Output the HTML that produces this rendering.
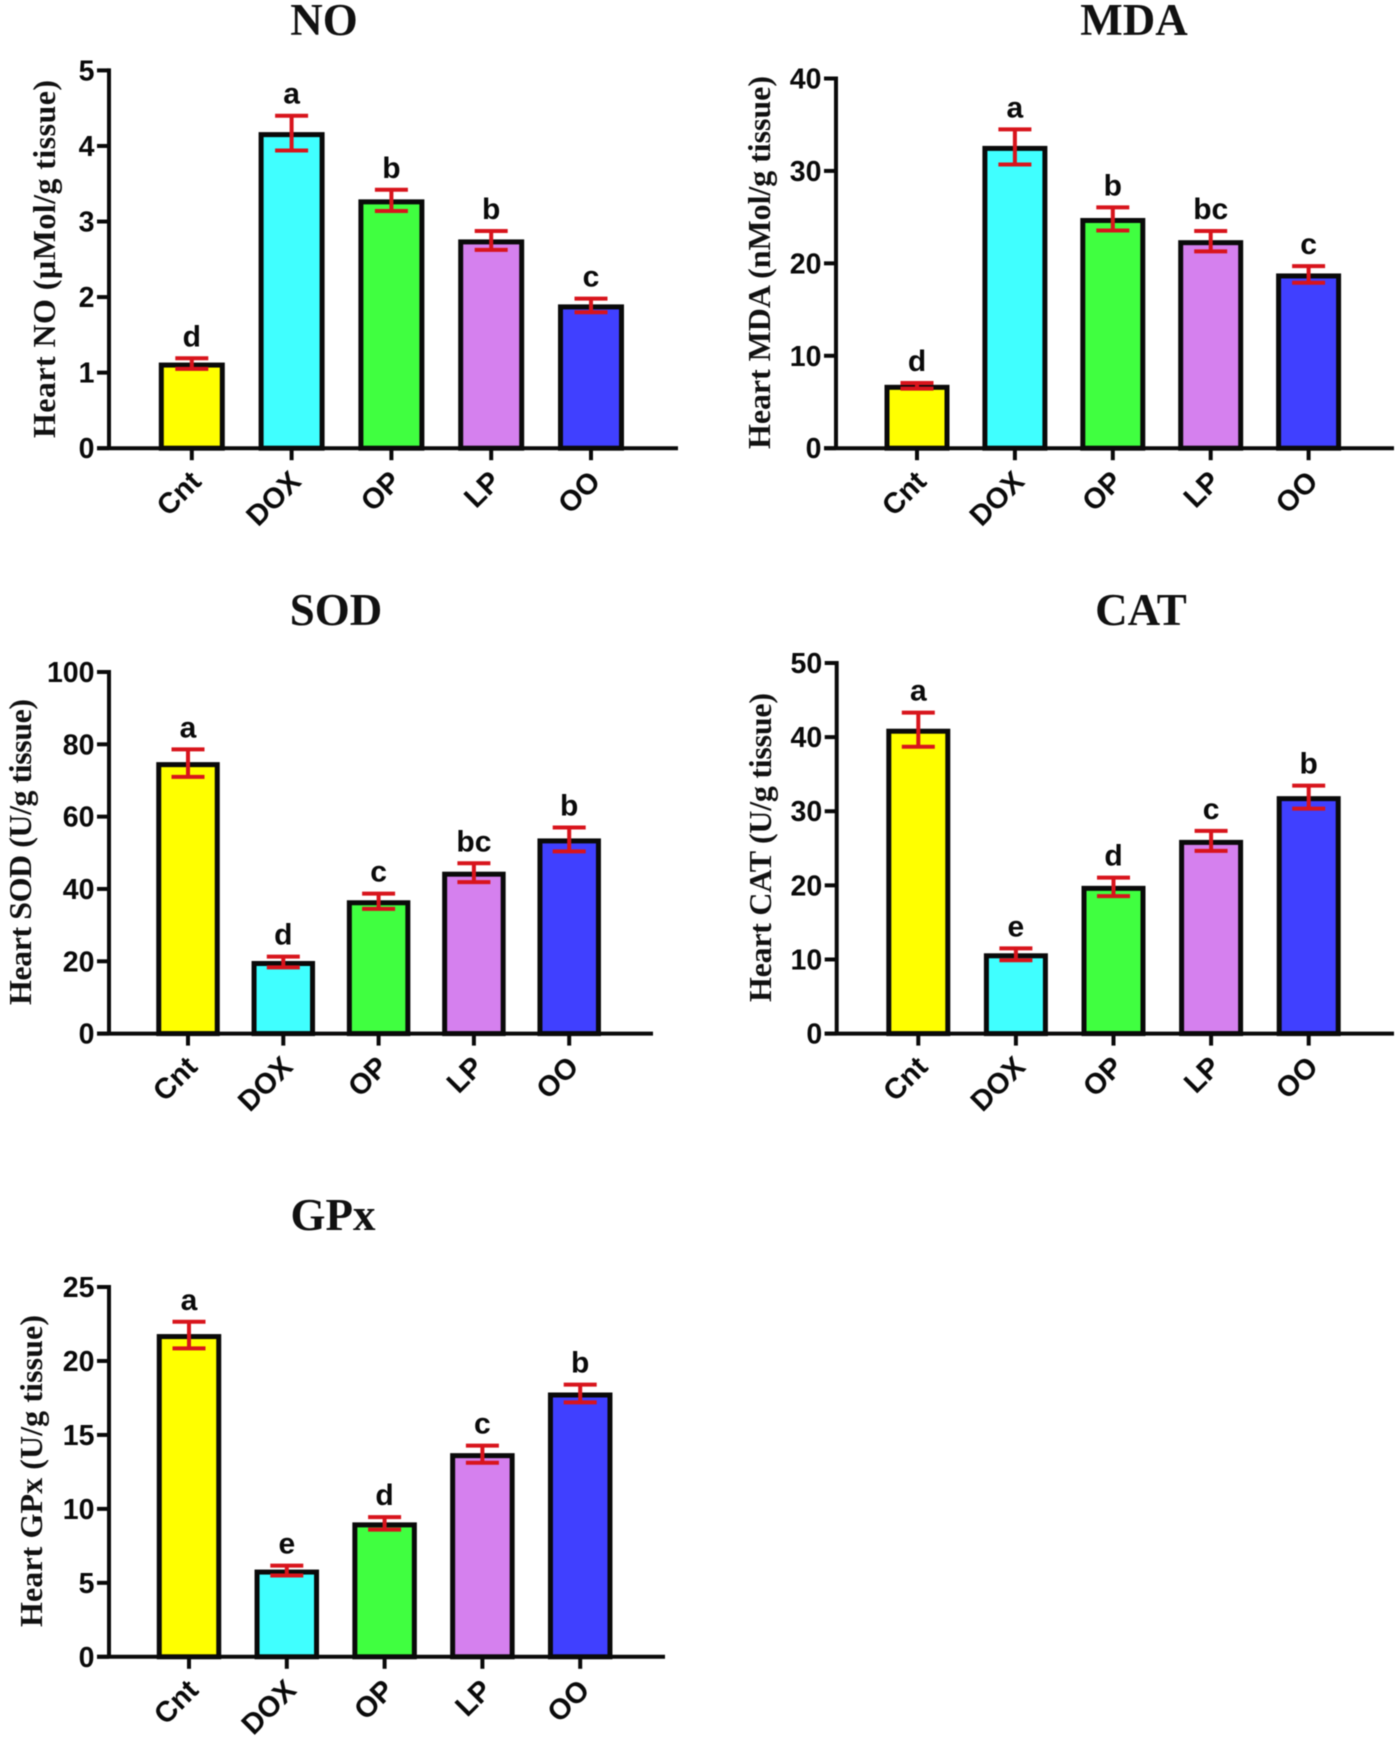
<!DOCTYPE html>
<html lang="en">
<head>
<meta charset="utf-8">
<title>Heart oxidative stress markers</title>
<style>
  html, body { margin: 0; padding: 0; background: #fff; }
  svg { display: block; filter: blur(0.6px); }
  .title { font: bold 45px "Liberation Serif", serif; text-anchor: middle; fill: #111; }
  .ytitle { font: bold 32px "Liberation Serif", serif; fill: #111; }
  .tick-label { font: bold 28.5px "Liberation Sans", sans-serif; text-anchor: end; fill: #0a0a0a; }
  .cat-label { font: bold 29px "Liberation Sans", sans-serif; text-anchor: end; fill: #0a0a0a; }
  .letter { font: bold 30px "Liberation Sans", sans-serif; text-anchor: middle; fill: #0a0a0a; }
</style>
</head>
<body>
<svg id="figure" xmlns="http://www.w3.org/2000/svg" width="1400" height="1740" viewBox="0 0 1400 1740">
  <rect x="0" y="0" width="1400" height="1740" fill="#ffffff"/>

  <g id="chart-no">
    <text class="title" x="324" y="35">NO</text>
    <text class="ytitle" transform="translate(55 438) rotate(-90)" textLength="358" lengthAdjust="spacing">Heart NO (µMol/g tissue)</text>
  </g>
  <g id="chart-mda">
    <text class="title" x="1134" y="35">MDA</text>
    <text class="ytitle" transform="translate(770 449) rotate(-90)" textLength="373" lengthAdjust="spacing">Heart MDA (nMol/g tissue)</text>
  </g>
  <g id="chart-sod">
    <text class="title" x="336" y="625">SOD</text>
    <text class="ytitle" transform="translate(31 1005) rotate(-90)" textLength="306" lengthAdjust="spacing">Heart SOD (U/g tissue)</text>
  </g>
  <g id="chart-cat">
    <text class="title" x="1141" y="625">CAT</text>
    <text class="ytitle" transform="translate(771 1002) rotate(-90)" textLength="309" lengthAdjust="spacing">Heart CAT (U/g tissue)</text>
  </g>
  <g id="chart-gpx">
    <text class="title" x="333" y="1230">GPx</text>
    <text class="ytitle" transform="translate(42 1627) rotate(-90)" textLength="312" lengthAdjust="spacing">Heart GPx (U/g tissue)</text>
  </g>
</svg>

<script>
// Shared categories
const categories = ['Cnt', 'DOX', 'OP', 'LP', 'OO'];

// NO
const noTicks = [0, 1, 2, 3, 4, 5];
const noValues = [1.12, 4.17, 3.28, 2.75, 1.89];
const noErrors = [0.07, 0.23, 0.14, 0.125, 0.09];
const noLetters = ['d', 'a', 'b', 'b', 'c'];

// MDA
const mdaTicks = [0, 10, 20, 30, 40];
const mdaValues = [6.75, 32.6, 24.8, 22.4, 18.8];
const mdaErrors = [0.3, 1.9, 1.25, 1.1, 0.9];
const mdaLetters = ['d', 'a', 'b', 'bc', 'c'];

// SOD
const sodTicks = [0, 20, 40, 60, 80, 100];
const sodValues = [74.8, 19.8, 36.6, 44.5, 53.7];
const sodErrors = [3.8, 1.5, 2.1, 2.6, 3.3];
const sodLetters = ['a', 'd', 'c', 'bc', 'b'];

// CAT
const catTicks = [0, 10, 20, 30, 40, 50];
const catValues = [41, 10.7, 19.8, 26, 31.9];
const catErrors = [2.3, 0.8, 1.25, 1.35, 1.55];
const catLetters = ['a', 'e', 'd', 'c', 'b'];

// GPx
const gpxTicks = [0, 5, 10, 15, 20, 25];
const gpxValues = [21.75, 5.83, 9.02, 13.7, 17.8];
const gpxErrors = [0.9, 0.33, 0.42, 0.58, 0.6];
const gpxLetters = ['a', 'e', 'd', 'c', 'b'];

// Series colours
const barColors = ['#ffff00', '#40ffff', '#40ff40', '#d580ee', '#4040ff'];

const SVG_NS = 'http://www.w3.org/2000/svg';
const ERROR_COLOR = '#d8141c';
const INK = '#0a0a0a';

function shape(tag, parent, attrs) {
  const el = document.createElementNS(SVG_NS, tag);
  for (const key in attrs) el.setAttribute(key, attrs[key]);
  parent.appendChild(el);
  return el;
}

function drawChart(cfg) {
  const root = document.getElementById(cfg.id);
  const yOf = function (v) {
    const max = cfg.ticks[cfg.ticks.length - 1];
    return cfg.y0 - (v / max) * (cfg.y0 - cfg.yTop);
  };
  const xOf = function (i) { return cfg.x0 + i * cfg.step; };

  categories.forEach(function (cat, i) {
    const left = xOf(i) - cfg.barW / 2 + 2.5;
    const top = yOf(cfg.values[i]) + 1.5;
    const bar = shape('rect', root, {
      x: left, y: top, width: cfg.barW - 5, height: Math.max(0, cfg.y0 - top),
      fill: barColors[i], stroke: INK, 'stroke-width': 5
    });
    
    
  });

  const yAxis = shape('line', root, {
    x1: cfg.axisX, x2: cfg.axisX, y1: cfg.yTop - 2, y2: cfg.y0,
    stroke: INK, 'stroke-width': 4
  });
  
  

  const xAxis = shape('line', root, {
    x1: cfg.axisX - 12, x2: cfg.xEnd, y1: cfg.y0, y2: cfg.y0,
    stroke: INK, 'stroke-width': 4
  });
  
  

  cfg.ticks.forEach(function (t) {
    const y = yOf(t);
    const mark = shape('line', root, {
      x1: cfg.axisX - 12, x2: cfg.axisX, y1: y, y2: y, stroke: INK, 'stroke-width': 4
    });
    
    
    const label = shape('text', root, { class: 'tick-label', x: cfg.axisX - 14.5, y: y + 10 });
    label.textContent = String(t);
    
    
  });

  categories.forEach(function (cat, i) {
    const x = xOf(i);
    const mark = shape('line', root, {
      x1: x, x2: x, y1: cfg.y0, y2: cfg.y0 + 12, stroke: INK, 'stroke-width': 4
    });
    
    
    const ax = x + 11, ay = cfg.y0 + 35;
    const label = shape('text', root, {
      class: 'cat-label', x: ax, y: ay, transform: 'rotate(-45 ' + ax + ' ' + ay + ')'
    });
    label.textContent = cat;
    
    
  });

  categories.forEach(function (cat, i) {
    const x = xOf(i);
    const hi = yOf(cfg.values[i] + cfg.errors[i]);
    const lo = yOf(cfg.values[i] - cfg.errors[i]);
    const capW = 16.5;
    const err = shape('path', root, {
      d: 'M' + (x - capW) + ' ' + hi + 'H' + (x + capW) +
         'M' + x + ' ' + hi + 'V' + lo +
         'M' + (x - capW) + ' ' + lo + 'H' + (x + capW),
      fill: 'none', stroke: ERROR_COLOR, 'stroke-width': 4
    });
    
    
    const letter = shape('text', root, { class: 'letter', x: x, y: hi - 12 });
    letter.textContent = cfg.letters[i];
    
    
  });
}

drawChart({ id: 'chart-no', key: 'no', ticks: noTicks, values: noValues, errors: noErrors, letters: noLetters,
  axisX: 109, xEnd: 678, yTop: 70.4, y0: 448.2, x0: 191.8, step: 99.8, barW: 66 });
drawChart({ id: 'chart-mda', key: 'mda', ticks: mdaTicks, values: mdaValues, errors: mdaErrors, letters: mdaLetters,
  axisX: 836, xEnd: 1394, yTop: 78.5, y0: 448.2, x0: 917, step: 97.9, barW: 65 });
drawChart({ id: 'chart-sod', key: 'sod', ticks: sodTicks, values: sodValues, errors: sodErrors, letters: sodLetters,
  axisX: 109, xEnd: 653, yTop: 672, y0: 1033.6, x0: 188, step: 95.3, barW: 63.5 });
drawChart({ id: 'chart-cat', key: 'cat', ticks: catTicks, values: catValues, errors: catErrors, letters: catLetters,
  axisX: 836.7, xEnd: 1394, yTop: 663, y0: 1033.6, x0: 918.3, step: 97.6, barW: 64 });
drawChart({ id: 'chart-gpx', key: 'gpx', ticks: gpxTicks, values: gpxValues, errors: gpxErrors, letters: gpxLetters,
  axisX: 109, xEnd: 665, yTop: 1287, y0: 1656.8, x0: 189, step: 97.8, barW: 64.5 });
</script>
</body>
</html>
